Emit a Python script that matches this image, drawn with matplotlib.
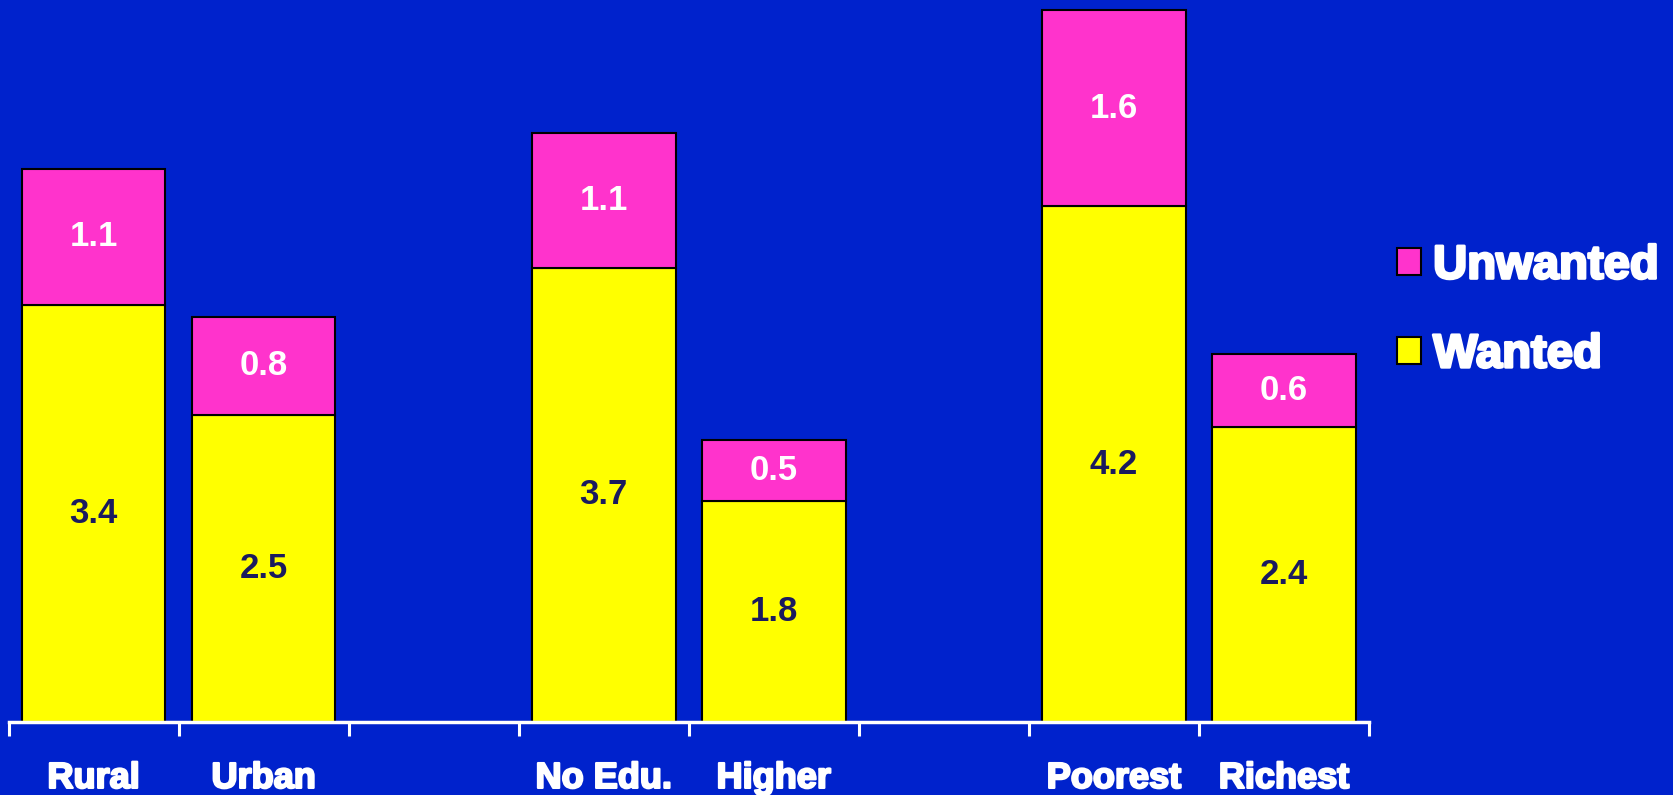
"""Wanted vs unwanted fertility by residence, education and wealth."""

import matplotlib.pyplot as plt
import matplotlib.patheffects as pe
import numpy as np
from matplotlib.patches import Patch

categories = ["Rural", "Urban", "No Edu.", "Higher", "Poorest", "Richest"]
positions = [0, 1, 3, 4, 6, 7]
wanted = [3.4, 2.5, 3.7, 1.8, 4.2, 2.4]
unwanted = [1.1, 0.8, 1.1, 0.5, 1.6, 0.6]

BG = "#0022CC"
PINK = "#FF33CC"
YELLOW = "#FFFF00"
NAVY = "#1B1B5E"

plt.rcParams["font.family"] = ["Liberation Sans", "DejaVu Sans"]
plt.rcParams["font.weight"] = "bold"

heavy = [pe.withStroke(linewidth=1.6, foreground="white")]

fig = plt.figure(figsize=(16.74, 7.95), dpi=100, facecolor=BG)
ax = fig.add_axes([0.0051, 0.0918, 0.8127, 0.9082], facecolor=BG)

x = np.array(positions, dtype=float)
w = np.array(wanted)
u = np.array(unwanted)
width = 0.845

ax.bar(x, w, width, color=YELLOW, edgecolor="black", linewidth=1.5, zorder=2)
ax.bar(x, u, width, bottom=w, color=PINK, edgecolor="black", linewidth=1.5, zorder=2)

for xi, wi, ui in zip(x, w, u):
    ax.text(xi, wi / 2, f"{wi:.1f}", ha="center", va="center",
            color=NAVY, fontsize=25, fontweight="bold", zorder=3)
    ax.text(xi, wi + ui / 2, f"{ui:.1f}", ha="center", va="center",
            color="white", fontsize=25, fontweight="bold", zorder=3)

ax.set_xlim(-0.5, 7.5)
ax.set_ylim(0, 5.88)

for side in ("top", "right", "left"):
    ax.spines[side].set_visible(False)
ax.spines["bottom"].set_color("white")
ax.spines["bottom"].set_linewidth(2.5)
ax.yaxis.set_visible(False)

ax.set_xticks(np.arange(-0.5, 8.0, 1.0))
ax.set_xticklabels([])
ax.tick_params(axis="x", which="major", direction="out", length=10,
               width=2.2, color="white")
ax.set_xticks(x, minor=True)
ax.set_xticklabels(categories, minor=True)
ax.tick_params(axis="x", which="minor", length=0, pad=28,
               labelsize=26, labelcolor="white")
for lbl in ax.get_xticklabels(minor=True):
    lbl.set_fontweight("bold")
    lbl.set_path_effects(heavy)

handles = [Patch(facecolor=PINK, edgecolor="black", linewidth=1.5, label="Unwanted"),
           Patch(facecolor=YELLOW, edgecolor="black", linewidth=1.5, label="Wanted")]
leg = fig.legend(handles=handles, loc="upper left", bbox_to_anchor=(0.809, 0.746),
                 frameon=False, fontsize=34, handlelength=0.52, handleheight=0.52,
                 handletextpad=0.25, labelspacing=0.95, labelcolor="white")
for t in leg.get_texts():
    t.set_fontweight("bold")
    t.set_path_effects([pe.withStroke(linewidth=2.0, foreground="white")])

fig.savefig("out.png", dpi=100, facecolor=BG)
